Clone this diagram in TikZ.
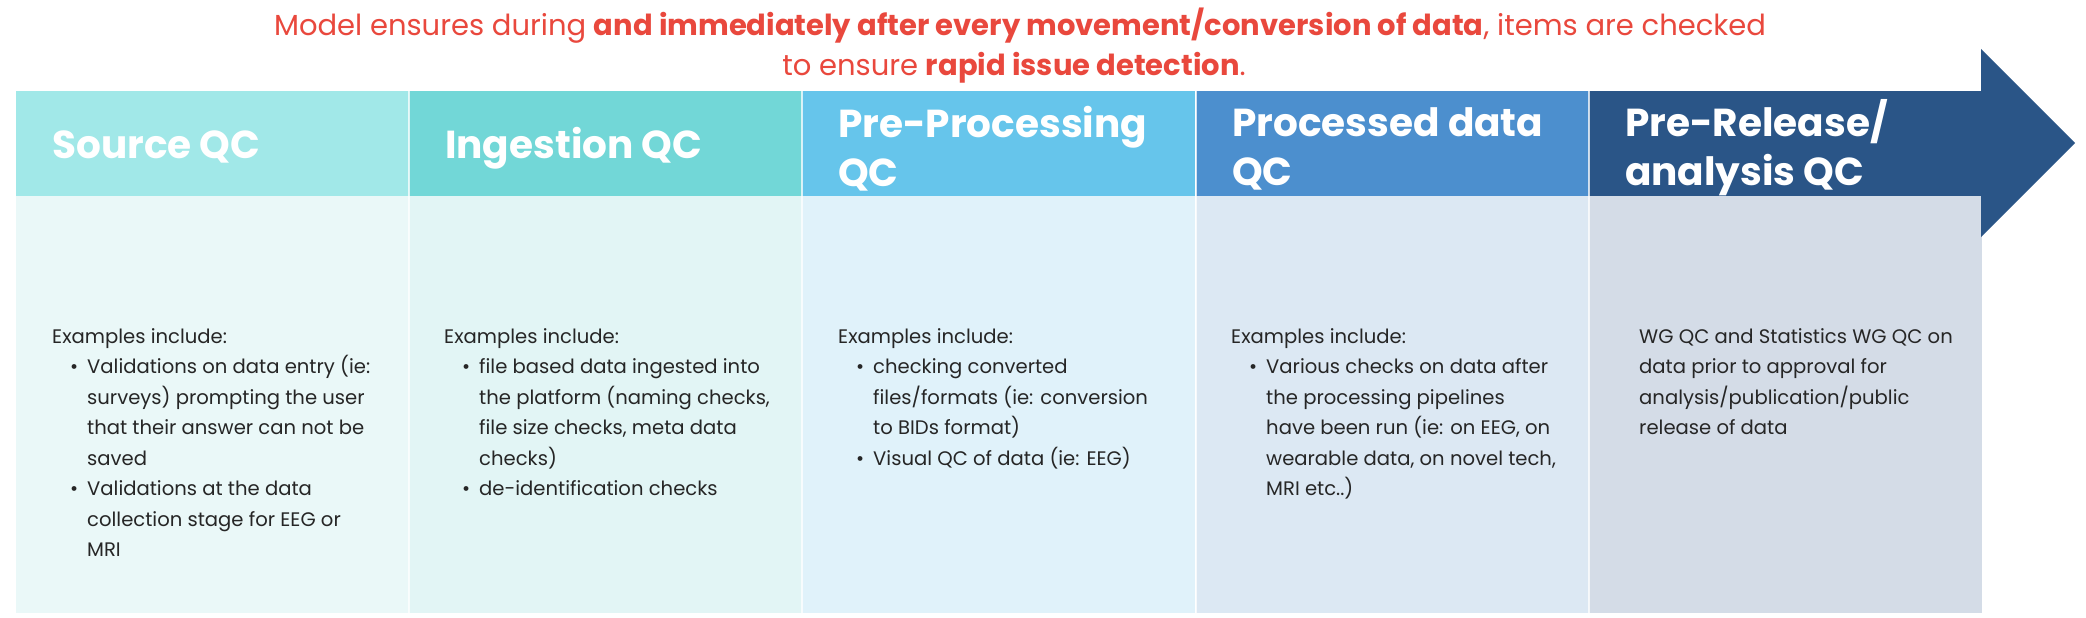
\documentclass[tikz,border=0pt]{standalone}
\usepackage{fontspec}
\setmainfont{Poppins}
\definecolor{hA}{HTML}{A1E8E8}
\definecolor{hB}{HTML}{72D7D7}
\definecolor{hC}{HTML}{66C5EB}
\definecolor{hD}{HTML}{4C8FCE}
\definecolor{hE}{HTML}{2A5587}
\definecolor{bA}{HTML}{EAF8F8}
\definecolor{bB}{HTML}{E2F5F5}
\definecolor{bC}{HTML}{E0F2FA}
\definecolor{bD}{HTML}{DCE8F3}
\definecolor{bE}{HTML}{D4DCE7}
\definecolor{titlered}{HTML}{E9483D}
\definecolor{bodytext}{HTML}{262626}
\newcommand\bitem{\hspace*{18pt}\makebox[17pt][l]{\textbullet}}
\newcommand\bind{\hspace*{35pt}}
\begin{document}
\begin{tikzpicture}[x=1pt,y=-1pt,
  hbox/.style={rectangle, draw=none, inner sep=0pt, minimum width=393pt, minimum height=105pt, anchor=north west},
  bbox/.style={rectangle, draw=none, inner sep=0pt, minimum width=393pt, minimum height=417pt, anchor=north west},
  htext/.style={anchor=base west, inner sep=0pt, text=white, align=left, font=\fontsize{39}{49}\selectfont\bfseries},
  btext/.style={anchor=base west, inner sep=0pt, text=bodytext, align=left, font=\fontsize{19.6}{30.5}\selectfont},
  ttext/.style={anchor=base, inner sep=0pt, text=titlered, font=\fontsize{29}{40}\selectfont},
  sep/.style={draw=white, line width=1.2pt, opacity=0.75}
]
\useasboundingbox (0,0) rectangle (2086,618);
\fill[white] (0,0) rectangle (2086,618);

% title
\node[ttext] (title1) at (1020,36) {Model ensures during \textbf{and immediately after every movement/conversion of data}, items are checked};
\node[ttext] (title2) at (1014,76) {to ensure \textbf{rapid issue detection}.};

% body boxes
\node[bbox, fill=bA] (b1) at (16,196) {};
\node[bbox, fill=bB] (b2) at (409,196) {};
\node[bbox, fill=bC] (b3) at (802,196) {};
\node[bbox, fill=bD] (b4) at (1196,196) {};
\node[bbox, fill=bE] (b5) at (1589,196) {};

% arrow head
\fill[hE] (1981,49) -- (2075,143) -- (1981,237) -- cycle;

% header boxes
\node[hbox, fill=hA] (h1) at (16,91) {};
\node[hbox, fill=hB] (h2) at (409,91) {};
\node[hbox, fill=hC] (h3) at (802,91) {};
\node[hbox, fill=hD] (h4) at (1196,91) {};
\node[hbox, fill=hE] (h5) at (1589,91) {};

% separators
\draw[sep] (h2.north west) -- (b2.south west);
\draw[sep] (h3.north west) -- (b3.south west);
\draw[sep] (h4.north west) -- (b4.south west);
\draw[sep] (h5.north west) -- (b5.south west);

% header texts (base anchor = baseline of last line)
\node[htext] (ht1) at (52,158) {Source QC};
\node[htext] (ht2) at (445,158) {Ingestion QC};
\node[htext] (ht3) at (838,186) {Pre-Processing\\QC};
\node[htext] (ht4) at (1232,185) {Processed data\\QC};
\node[htext] (ht5) at (1625,185) {Pre-Release/\\analysis QC};

% body texts (base anchor = baseline of last line; first line at y=343)
\node[btext] (bt1) at (52,556.5) {Examples include:\\
\bitem Validations on data entry (ie:\\
\bind surveys) prompting the user\\
\bind that their answer can not be\\
\bind saved\\
\bitem Validations at the data\\
\bind collection stage for EEG or\\
\bind MRI};
\node[btext] (bt2) at (444,495.5) {Examples include:\\
\bitem file based data ingested into\\
\bind the platform (naming checks,\\
\bind file size checks, meta data\\
\bind checks)\\
\bitem de-identification checks};
\node[btext] (bt3) at (838,465) {Examples include:\\
\bitem checking converted\\
\bind files/formats (ie: conversion\\
\bind to BIDs format)\\
\bitem Visual QC of data (ie: EEG)};
\node[btext] (bt4) at (1231,495.5) {Examples include:\\
\bitem Various checks on data after\\
\bind the processing pipelines\\
\bind have been run (ie: on EEG, on\\
\bind wearable data, on novel tech,\\
\bind MRI etc..)};
\node[btext] (bt5) at (1639,434.5) {WG QC and Statistics WG QC on\\
data prior to approval for\\
analysis/publication/public\\
release of data};
\end{tikzpicture}
\end{document}
